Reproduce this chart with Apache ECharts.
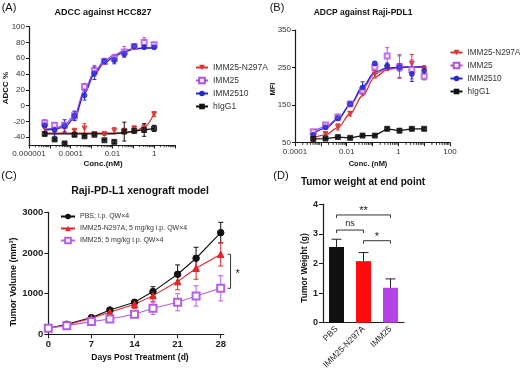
<!DOCTYPE html>
<html><head><meta charset="utf-8">
<script src="https://cdn.jsdelivr.net/npm/echarts@6/dist/echarts.min.js"></script>
<style>html,body{margin:0;padding:0;background:#fff}#c{width:520px;height:375px}</style>
</head><body><div id="c"></div>
<script>
// ---------- Panel A: ADCC ----------
const concA = [5.65e-6, 1.69e-5, 5.08e-5, 1.52e-4, 4.57e-4, 1.37e-3, 4.12e-3, 1.23e-2, 3.7e-2, 0.111, 0.333, 1];
const adccN297A = [-29, -30, -29, -32, -29, -36, -36, -32, -32, -29, -28, -11];
const adccIMM25 = [-22, -25, -25, -13, 24, 44, 56, 60, 68, 75, 80, 77];
const adccIMM2510 = [-25, -31, -26, -13, 13, 41, 56, 58, 66, 75, 74, 74];
const adccIgG1 = [-36, -43, -48, -37, -39, -37, -44, -46, -33, -32, -31, -29];
const errA_N297A = [4, 3, 4, 2, 6, 2, 2, 4, 3, 3, 5, 3];
const errA_IMM25 = [4, 3, 3, 5, 4, 7, 4, 5, 7, 3, 6, 3];
const errA_IMM2510 = [3, 8, 8, 6, 6, 8, 3, 5, 4, 2, 2, 2];
const errA_IgG1 = [2, 1, 1, 2, 1, 1, 1, 2, 12, 3, 8, 4];
// fitted curves at the same concentrations
const fitA_N297A = [-35, -35, -35, -35, -35, -35, -35, -35, -34.5, -33, -27, -10];
const fitA_IMM25 = [-30, -29, -24.5, -12, 20, 43, 57, 64, 69.6, 72.5, 73.2, 73.5];
const fitA_IMM2510 = [-31, -30, -27, -16, 15.6, 40, 54.4, 62, 68, 71.8, 72.8, 73];
const fitA_IgG1 = [-36, -36, -36, -36, -36, -36, -36, -35.5, -34.5, -32.5, -30.5, -29];
const yTicksA = [-40, -20, 0, 20, 40, 60, 80, 100];
const xLabelsA = ['0.000001', '0.0001', '0.01', '1'];

// ---------- Panel B: ADCP ----------
const concB = [5.08e-4, 1.52e-3, 4.57e-3, 1.37e-2, 4.12e-2, 0.123, 0.37, 1.11, 3.33, 10];
const mfiN297A = [61, 73, 92, 127, 186, 232, 250, 254, 260, 245];
const mfiIMM25 = [79, 97, 118, 153, 188, 251, 281, 251, 245, 227];
const mfiIMM2510 = [71, 91, 115, 153, 197, 261, 254, 251, 233, 242];
const mfiIgG1 = [60, 61, 65, 63, 69, 69, 87, 82, 87, 87];
const errB_N297A = [4, 4, 8, 6, 8, 10, 8, 30, 25, 10];
const errB_IMM25 = [6, 5, 8, 6, 6, 5, 22, 30, 25, 10];
const errB_IMM2510 = [5, 5, 6, 6, 15, 5, 8, 10, 20, 10];
const errB_IgG1 = [3, 3, 3, 3, 3, 3, 4, 5, 4, 4];
const fitB_N297A = [63, 71, 90, 127, 175, 225, 244, 250, 251, 251];
const fitB_IMM25 = [80, 92, 114, 150, 193, 233, 247, 250, 251, 251];
const fitB_IMM2510 = [74, 88, 112, 151, 199, 238, 249, 251, 252, 252];
const yTicksB = [50, 150, 250, 350];
const xLabelsB = ['0.0001', '0.01', '1', '100'];

// ---------- Panel C: xenograft ----------
const days = [0, 3, 7, 10, 14, 17, 21, 24, 28];
const volPBS = [148, 246, 410, 598, 787, 1050, 1476, 1870, 2500];
const volN297A = [148, 230, 394, 541, 738, 951, 1296, 1624, 1968];
const volIMM25 = [148, 213, 312, 377, 492, 640, 787, 943, 1131];
const errPBS = [15, 20, 25, 40, 60, 120, 230, 270, 254];
const errN297A = [15, 20, 25, 40, 100, 140, 200, 270, 290];
const errIMM25 = [15, 20, 30, 50, 80, 150, 210, 250, 310];
const xTicksC = [0, 7, 14, 21, 28];
const sigCDay = [29.6];
const sigCLow = [1131];
const sigCHigh = [1968];
const sigCText = ['*'];

// ---------- Panel D: tumor weight ----------
const groupsD = ['PBS', 'IMM25-N297A', 'IMM25'];
const weightD = [2.56, 2.08, 1.18];
const errWeightD = [0.26, 0.29, 0.30];
const sigDFrom = [0, 1, 0];
const sigDTo = [1, 2, 2];
const sigDY = [3.13, 2.77, 3.64];
const sigDText = ['ns', '*', '**'];

const namesAB = ['IMM25-N297A', 'IMM25', 'IMM2510', 'hIgG1'];
const namesC = ['PBS; i.p. QW×4', 'IMM25-N297A; 5 mg/kg i.p. QW×4', 'IMM25; 5 mg/kg i.p. QW×4'];

const FONT = '"Liberation Sans", Arial, sans-serif';
const RED = '#d8342f', PURPLE = '#b04fe0', BLUE = '#2727d2', BLACK = '#111111';
const RED_C = '#e02828', PURPLE_C = '#b45ee6';
const AX = '#1a1a1a';

function zip(a, b) { return a.map((v, i) => [v, b[i]]); }
function minorLog(d0, d1) { const r = []; for (let d = d0; d <= d1; d++) for (let k = 2; k <= 9; k++) r.push(k * Math.pow(10, d)); return r; }
function majorLog(d0, d1) { const r = []; for (let d = d0; d <= d1; d++) r.push(Math.pow(10, d)); return r; }

function errSeries(xi, yi, xs, ys, es, color, cap, upOnly) {
  return {
    type: 'custom', xAxisIndex: xi, yAxisIndex: yi, silent: true, z: 2,
    data: xs.map((x, i) => [x, ys[i], es[i]]),
    encode: { x: 0, y: 1 },
    renderItem: function (params, api) {
      const x = api.value(0), y = api.value(1), e = api.value(2);
      const t = api.coord([x, y + e]);
      const b = upOnly ? api.coord([x, y]) : api.coord([x, y - e]);
      const st = { stroke: color, lineWidth: 1 };
      const ch = [
        { type: 'line', shape: { x1: t[0], y1: t[1], x2: b[0], y2: b[1] }, style: st },
        { type: 'line', shape: { x1: t[0] - cap, y1: t[1], x2: t[0] + cap, y2: t[1] }, style: st }
      ];
      if (!upOnly) ch.push({ type: 'line', shape: { x1: b[0] - cap, y1: b[1], x2: b[0] + cap, y2: b[1] }, style: st });
      return { type: 'group', children: ch };
    }
  };
}

// minor tick marks on log axes, drawn through the axis scale
function minorTicks(xi, yi, vals, yBase) {
  return {
    type: 'custom', xAxisIndex: xi, yAxisIndex: yi, silent: true, clip: false, z: 6,
    data: vals.map(v => [v, yBase]), encode: { x: 0, y: 1 },
    renderItem: function (params, api) {
      const p = api.coord([api.value(0), api.value(1)]);
      return { type: 'line', shape: { x1: p[0], y1: p[1], x2: p[0], y2: p[1] + 2.2 }, style: { stroke: AX, lineWidth: 0.9 } };
    }
  };
}

function curve(name, xi, yi, xs, ys, color, symbol, rot) {
  return { name: name, type: 'line', xAxisIndex: xi, yAxisIndex: yi, data: zip(xs, ys), smooth: 0.35,
    smoothMonotone: 'x', showSymbol: false, symbol: symbol, symbolRotate: rot, symbolSize: 6,
    lineStyle: { color: color, width: 1.3 }, itemStyle: { color: color }, z: 3, silent: true };
}
function points(name, xi, yi, xs, ys, color, symbol, rot, size) {
  return { name: '_' + name, type: 'scatter', xAxisIndex: xi, yAxisIndex: yi, data: zip(xs, ys),
    symbol: symbol, symbolRotate: rot, symbolSize: size, itemStyle: { color: color, borderColor: color }, z: 4, silent: true };
}

const tickStyle = { show: true, inside: false, length: 3, lineStyle: { color: AX, width: 1 } };
const lineStyleAx = { show: true, onZero: false, lineStyle: { color: AX, width: 1.2 } };

function logLabel(labels) {
  return function (v) {
    const lv = Math.round(Math.log10(v));
    for (const s of labels) if (Math.round(Math.log10(parseFloat(s))) === lv) return s;
    return '';
  };
}

const option = {
  animation: false,
  grid: [
    { left: 29, top: 26.7, width: 146, height: 118.3 },
    { left: 295, top: 30, width: 155, height: 112.7 },
    { left: 48.3, top: 212.3, width: 175.5, height: 122 },
    { left: 323, top: 204.3, width: 81, height: 118.4 }
  ],
  xAxis: [
    { gridIndex: 0, type: 'log', logBase: 10, min: 1e-6, max: 10, position: 'bottom',
      axisLine: lineStyleAx, axisTick: Object.assign({}, tickStyle, { length: 3.5, customValues: majorLog(-6, 1) }), splitLine: { show: false },
      axisLabel: { fontSize: 8, color: '#333', fontFamily: FONT, margin: 5, customValues: xLabelsA.map(Number), formatter: logLabel(xLabelsA) } },
    { gridIndex: 1, type: 'log', logBase: 10, min: 1e-4, max: 100, position: 'bottom',
      axisLine: lineStyleAx, axisTick: Object.assign({}, tickStyle, { length: 3.5, customValues: majorLog(-4, 2) }), splitLine: { show: false },
      axisLabel: { fontSize: 8, color: '#333', fontFamily: FONT, margin: 5, customValues: xLabelsB.map(Number), formatter: logLabel(xLabelsB) } },
    { gridIndex: 2, type: 'value', min: 0, max: 28.5, interval: 7,
      axisLine: lineStyleAx, axisTick: Object.assign({}, tickStyle, { length: 4, customValues: xTicksC }), splitLine: { show: false },
      axisLabel: { fontSize: 9.5, fontWeight: 'bold', color: '#222', fontFamily: FONT, margin: 5, customValues: xTicksC } },
    { gridIndex: 3, type: 'category', data: groupsD,
      axisLine: lineStyleAx, axisTick: { show: false }, splitLine: { show: false },
      axisLabel: { fontSize: 8.5, color: '#222', fontFamily: FONT, rotate: 45, margin: 5, interval: 0 } }
  ],
  yAxis: [
    { gridIndex: 0, type: 'value', min: -50, max: 100,
      axisLine: lineStyleAx, axisTick: Object.assign({}, tickStyle, { customValues: yTicksA }), splitLine: { show: false },
      axisLabel: { fontSize: 8, color: '#333', fontFamily: FONT, margin: 4, customValues: yTicksA } },
    { gridIndex: 1, type: 'value', min: 50, max: 350,
      axisLine: lineStyleAx, axisTick: Object.assign({}, tickStyle, { customValues: yTicksB }), splitLine: { show: false },
      axisLabel: { fontSize: 8, color: '#333', fontFamily: FONT, margin: 4, customValues: yTicksB } },
    { gridIndex: 2, type: 'value', min: 0, max: 3000, interval: 1000,
      axisLine: lineStyleAx, axisTick: Object.assign({}, tickStyle, { length: 4 }), splitLine: { show: false },
      axisLabel: { fontSize: 9.5, fontWeight: 'bold', color: '#222', fontFamily: FONT, margin: 5, formatter: v => String(v) } },
    { gridIndex: 3, type: 'value', min: 0, max: 4, interval: 1,
      axisLine: lineStyleAx, axisTick: Object.assign({}, tickStyle, { length: 4 }), splitLine: { show: false },
      axisLabel: { fontSize: 9, fontWeight: 'bold', color: '#222', fontFamily: FONT, margin: 5 } }
  ],
  legend: [
    { left: 190, top: 57.5, orient: 'vertical', itemWidth: 12, itemHeight: 7, itemGap: 3, selectedMode: false,
      textStyle: { fontSize: 8.5, color: '#333', fontFamily: FONT, lineHeight: 10 }, data: namesAB },
    { left: 444.5, top: 42.5, orient: 'vertical', itemWidth: 12, itemHeight: 7, itemGap: 3, selectedMode: false,
      textStyle: { fontSize: 8.2, color: '#333', fontFamily: FONT, lineHeight: 10 }, data: namesAB },
    { left: 55, top: 207, orient: 'vertical', itemWidth: 14, itemHeight: 7, itemGap: 3, selectedMode: false,
      textStyle: { fontSize: 7, color: '#333', fontFamily: FONT, lineHeight: 9 }, data: namesC }
  ],
  series: [],
  graphic: []
};

const S = option.series;
S.push(minorTicks(0, 0, minorLog(-6, 0), -50));
S.push(minorTicks(1, 1, minorLog(-4, 1), 50));
// Panel A
const aSets = [
  [namesAB[0], adccN297A, errA_N297A, fitA_N297A, RED, 'triangle', 180],
  [namesAB[1], adccIMM25, errA_IMM25, fitA_IMM25, PURPLE, 'emptyRect', 0],
  [namesAB[2], adccIMM2510, errA_IMM2510, fitA_IMM2510, BLUE, 'circle', 0],
  [namesAB[3], adccIgG1, errA_IgG1, fitA_IgG1, BLACK, 'rect', 0]
];
aSets.forEach(s => {
  S.push(curve(s[0], 0, 0, concA, s[3], s[4], s[5], s[6]));
  S.push(errSeries(0, 0, concA, s[1], s[2], s[4], 2, false));
  S.push(points('A' + s[0], 0, 0, concA, s[1], s[4], s[5], s[6], 5));
});
// Panel B
const bSets = [
  [namesAB[0], mfiN297A, errB_N297A, fitB_N297A, RED, 'triangle', 180],
  [namesAB[1], mfiIMM25, errB_IMM25, fitB_IMM25, PURPLE, 'emptyRect', 0],
  [namesAB[2], mfiIMM2510, errB_IMM2510, fitB_IMM2510, BLUE, 'circle', 0],
  [namesAB[3], mfiIgG1, errB_IgG1, mfiIgG1, BLACK, 'rect', 0]
];
bSets.forEach(s => {
  const c = curve('B' + s[0], 1, 1, concB, s[3], s[4], s[5], s[6]);
  if (s[0] === 'hIgG1') { c.smooth = false; }
  S.push(c);
  S.push(errSeries(1, 1, concB, s[1], s[2], s[4], 2, false));
  S.push(points('B' + s[0], 1, 1, concB, s[1], s[4], s[5], s[6], 5));
});
// Panel C
const cSets = [
  [namesC[0], volPBS, errPBS, BLACK, 'circle'],
  [namesC[1], volN297A, errN297A, RED_C, 'triangle'],
  [namesC[2], volIMM25, errIMM25, PURPLE_C, 'emptyRect']
];
cSets.forEach(s => {
  S.push(errSeries(2, 2, days, s[1], s[2], s[3], 2.5, false));
  S.push({ name: s[0], type: 'line', xAxisIndex: 2, yAxisIndex: 2, data: zip(days, s[1]), symbol: s[4],
    symbolSize: s[4] === 'emptyRect' ? 7 : 6.5, showSymbol: true, lineStyle: { color: s[3], width: 1.1 },
    itemStyle: { color: s[3], borderColor: s[3] }, z: 4, silent: true });
});
// significance bracket C
S.push({ type: 'custom', xAxisIndex: 2, yAxisIndex: 2, silent: true, clip: false, z: 5,
  data: sigCDay.map((d, i) => [d, sigCLow[i], sigCHigh[i]]), encode: { x: 0, y: [1, 2] },
  renderItem: function (params, api) {
    const lo = api.coord([api.value(0), api.value(1)]);
    const hi = api.coord([api.value(0), api.value(2)]);
    const st = { stroke: '#333', lineWidth: 1 };
    return { type: 'group', children: [
      { type: 'line', shape: { x1: lo[0], y1: lo[1], x2: hi[0], y2: hi[1] }, style: st },
      { type: 'line', shape: { x1: lo[0] - 3, y1: lo[1], x2: lo[0], y2: lo[1] }, style: st },
      { type: 'line', shape: { x1: hi[0] - 3, y1: hi[1], x2: hi[0], y2: hi[1] }, style: st },
      { type: 'text', x: lo[0] + 7, y: (lo[1] + hi[1]) / 2 + 3, style: { text: sigCText[params.dataIndex], align: 'center', verticalAlign: 'middle', fontSize: 11, fontFamily: FONT, fill: '#222' } }
    ] };
  } });
// Panel D
S.push({ type: 'bar', xAxisIndex: 3, yAxisIndex: 3, barWidth: 15, silent: true, z: 3,
  data: weightD.map((v, i) => ({ value: v, itemStyle: { color: [BLACK, '#ff0d0d', '#b443e8'][i] } })) });
S.push(errSeries(3, 3, [0, 1, 2], weightD, errWeightD, '#222', 5, true));
S.push({ type: 'custom', xAxisIndex: 3, yAxisIndex: 3, silent: true, clip: false, z: 5,
  data: sigDY.map((y, i) => [sigDFrom[i], sigDTo[i], y]), encode: { x: [0, 1], y: 2 },
  renderItem: function (params, api) {
    const y = api.value(2);
    const a = api.coord([api.value(0), y]);
    const b = api.coord([api.value(1), y]);
    const drop = api.size([0, 0.1])[1];
    const txt = sigDText[params.dataIndex];
    return { type: 'group', children: [
      { type: 'polyline', shape: { points: [[a[0], a[1] + drop], [a[0], a[1]], [b[0], b[1]], [b[0], b[1] + drop]] }, style: { stroke: '#333', lineWidth: 1, fill: null } },
      { type: 'text', x: (a[0] + b[0]) / 2, y: a[1] - (txt === 'ns' ? 7 : 4), style: { text: txt, align: 'center', verticalAlign: 'middle', fontSize: txt === 'ns' ? 9 : 11, fontFamily: FONT, fill: '#222' } }
    ] };
  } });

// Text: panel letters, titles, axis names
function T(text, x, y, size, bold, rot) {
  return { type: 'text', x: x, y: y, rotation: rot || 0, silent: true,
    style: { text: text, align: 'center', verticalAlign: 'middle', fontSize: size, fontWeight: bold ? 'bold' : 'normal', fontFamily: FONT, fill: '#111' } };
}
option.graphic = [
  T('(A)', 9, 7.5, 11, false), T('(B)', 277, 7.5, 11, false), T('(C)', 9, 176, 11, false), T('(D)', 281, 176, 11, false),
  T('ADCC against HCC827', 103, 13, 9, true),
  T('ADCP against Raji-PDL1', 363, 13, 8.5, true),
  T('Raji-PD-L1 xenograft model', 140, 191, 10.5, true),
  T('Tumor weight at end point', 363, 182, 10, true),
  T('ADCC %', 6, 88, 8, true, Math.PI / 2),
  T('Conc.(nM)', 103, 164, 8, true),
  T('MFI', 273, 89, 7.5, true, Math.PI / 2),
  T('Conc. (nM)', 368, 164, 7.5, true),
  T('Tumor Volume (mm³)', 14, 282, 9, true, Math.PI / 2),
  T('Days Post Treatment (d)', 140, 358, 8.5, true),
  T('Tumor Weight (g)', 305, 268, 8.5, true, Math.PI / 2)
];

const chart = echarts.init(document.getElementById('c'), null, { renderer: 'canvas' });
chart.setOption(option);
</script>
</body></html>
